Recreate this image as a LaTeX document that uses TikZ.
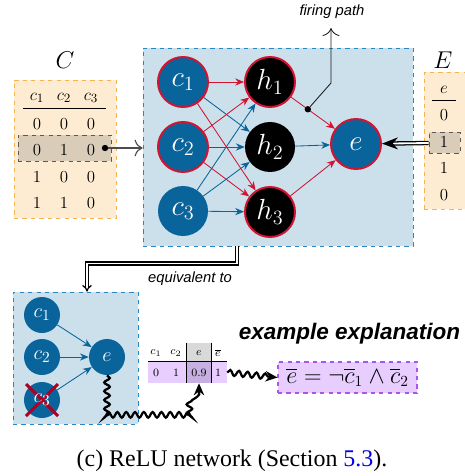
\documentclass[tikz,border=0pt]{standalone}
\usepackage{amsmath}
\usepackage{fontspec}
\setsansfont{Liberation Sans}
\newfontfamily\captionfont{Liberation Serif}
\usetikzlibrary{arrows.meta, calc, decorations.pathmorphing}

\definecolor{nodeblue}{RGB}{8,100,155}
\definecolor{firered}{RGB}{210,20,50}
\definecolor{netbg}{RGB}{204,224,236}
\definecolor{netborder}{RGB}{40,135,195}
\definecolor{tabbg}{RGB}{253,236,210}
\definecolor{tabborder}{RGB}{245,180,80}
\definecolor{rowpick}{RGB}{217,205,185}
\definecolor{explbg}{RGB}{232,206,255}
\definecolor{explborder}{RGB}{170,85,240}
\definecolor{cellpick}{RGB}{200,175,225}
\definecolor{crossred}{RGB}{175,0,35}
\definecolor{refblue}{RGB}{0,0,230}

\tikzset{
  neuron/.style={circle, fill=nodeblue, text=white, inner sep=0pt, minimum size=12.5mm, font=\fontsize{20}{20}\selectfont},
  hidden/.style={neuron, fill=black},
  fired/.style={draw=firered, line width=1.4pt},
  smallneuron/.style={circle, fill=nodeblue, text=white, inner sep=0pt, minimum size=9mm, font=\fontsize{15}{15}\selectfont},
  blueedge/.style={draw=nodeblue, line width=0.6pt, -{Stealth[length=2.2mm, width=1.8mm]}},
  rededge/.style={blueedge, draw=firered},
  cell/.style={inner sep=0pt, font=\fontsize{13}{13}\selectfont},
  smallcell/.style={inner sep=0pt, font=\fontsize{8}{8}\selectfont},
  panel/.style={draw=netborder, fill=netbg, dashed, line width=0.6pt},
  tablebox/.style={draw=tabborder, fill=tabbg, dashed, line width=0.6pt},
  pickbox/.style={draw=gray!70!black, fill=rowpick, dashed, line width=0.6pt, inner sep=0pt},
  dot/.style={circle, fill=black, inner sep=0pt, minimum size=1.6mm},
  doubleline/.style={double, double distance=1.3pt, line width=0.9pt},
  squiggle/.style={decorate, decoration={snake, amplitude=0.7mm, segment length=2.2mm, post length=2mm}, line width=1.6pt, -{Stealth[length=3mm, width=2.6mm]}},
  sans/.style={font=\sffamily\itshape\fontsize{10.5}{11}\selectfont}
}

\begin{document}
\begin{tikzpicture}
  \useasboundingbox (0,0) rectangle (11.6,-11.9);

  \node[panel, minimum width=6.75cm, minimum height=4.95cm] (net) at (6.95,-3.675) {};
  \node[panel, minimum width=3.125cm, minimum height=3.3cm] (small) at (1.8875,-8.95) {};

  \node[tablebox, minimum width=2.55cm, minimum height=3.45cm] (ctab) at (1.625,-3.725) {};
  \node[font=\fontsize{19}{19}\selectfont] (clabel) at (1.625,-1.5) {$C$};
  \node[pickbox, minimum width=2.325cm, minimum height=0.65cm] (cpick) at (1.6125,-3.7) {};
  \foreach \i in {1,2,3}
    \node[cell] (ch\i) at ({0.925+0.675*(\i-1)},-2.45) {$c_\i$};
  \draw[line width=0.5pt] (0.575,-2.7) -- (2.65,-2.7);
  \foreach \row [count=\r] in {{0,0,0},{0,1,0},{1,0,0},{1,1,0}}
    \foreach \v [count=\i] in \row
      \node[cell] (c-\r-\i) at ({0.925+0.675*(\i-1)},{-3.1-0.66*(\r-1)}) {$\v$};
  \node[dot] (cdot) at (2.625,-3.7) {};
  \draw[gray!60!black, line width=0.8pt, -{To[length=2mm]}] (cdot) -- (cdot -| net.west);

  \node[tablebox, minimum width=1.05cm, minimum height=3.425cm] (etab) at (11.125,-3.5125) {};
  \node[font=\fontsize{19}{19}\selectfont] (elabel) at (11.075,-1.5) {$E$};
  \node[pickbox, minimum width=0.775cm, minimum height=0.525cm] (epick) at (11.1125,-3.575) {};
  \node[cell] (eh) at (11.1,-2.25) {$e$};
  \draw[line width=0.5pt] (10.8,-2.5) -- (11.4,-2.5);
  \foreach \v [count=\r] in {0,1,1,0}
    \node[cell] (e-\r) at (11.1,{-2.875-0.665*(\r-1)}) {$\v$};

  \node[neuron, fired] (c1) at (4.575,-2.05) {$c_1$};
  \node[neuron, fired] (c2) at (4.575,-3.675) {$c_2$};
  \node[neuron] (c3) at (4.575,-5.275) {$c_3$};
  \node[hidden, fired] (h1) at (6.75,-2.05) {$h_1$};
  \node[hidden] (h2) at (6.75,-3.675) {$h_2$};
  \node[hidden, fired] (h3) at (6.75,-5.3) {$h_3$};
  \node[neuron, fired] (e) at (8.9,-3.6) {$e$};

  \foreach \s/\t/\sty in {c1/h2/blueedge, c2/h2/blueedge, c3/h1/blueedge, c3/h2/blueedge, c3/h3/blueedge,
    c1/h1/rededge, c1/h3/rededge, c2/h1/rededge, c2/h3/rededge, h2/e/blueedge, h1/e/rededge, h3/e/rededge}
    \draw[\sty] (\s) -- (\t);

  \node[dot] (firedot) at ($(h1)!0.44!(e)$) {};
  \coordinate (bend) at (8.275,-2.075);
  \coordinate (firetip) at (8.275,-0.7);
  \node[sans] (firelabel) at (8.3,-0.28) {firing path};
  \draw[gray!20!black, line width=0.6pt, -{To[length=2mm]}] (firedot) -- (bend) -- (firetip);

  \draw[doubleline, -{Stealth[length=4mm, width=3mm]}] (epick.west) -- (e);

  \draw[doubleline, -{Implies}] ([xshift=-1.025cm]net.south) -- ++(0,-0.425) -| ([xshift=0.2875cm]small.north);
  \node[sans] (eqlabel) at (4.75,-6.975) {equivalent to};

  \node[smallneuron] (sc1) at (1.05,-7.875) {$c_1$};
  \node[smallneuron] (sc2) at (1.05,-8.925) {$c_2$};
  \node[smallneuron] (sc3) at (1.05,-10.0) {};
  \node[smallneuron] (se) at (2.675,-8.925) {$e$};
  \foreach \s in {sc1,sc2,sc3}
    \draw[blueedge] (\s) -- (se);
  \draw[crossred, line width=2.2pt] ($(sc3)+(-0.4,0.4)$) -- ($(sc3)+(0.4,-0.4)$);
  \draw[crossred, line width=2.2pt] ($(sc3)+(-0.4,-0.4)$) -- ($(sc3)+(0.4,0.4)$);
  \node[text=white, font=\fontsize{15}{15}\selectfont, inner sep=0pt] (sc3text) at (sc3) {$c_3$};

  \node[fill=explbg, minimum width=1.975cm, minimum height=0.525cm, inner sep=0pt] (xrow) at (4.6875,-9.3125) {};
  \node[fill=gray!30, minimum width=0.6cm, minimum height=0.475cm, inner sep=0pt] (ehead) at (4.975,-8.8125) {};
  \node[fill=cellpick, minimum width=0.6cm, minimum height=0.525cm, inner sep=0pt] (ecell) at (4.975,-9.3125) {};
  \foreach \t/\x [count=\i] in {c_1/3.9, c_2/4.4, e/4.975, \overline{e}/5.45}
    \node[smallcell] (xh\i) at (\x,-8.825) {$\t$};
  \foreach \t/\x [count=\i] in {0/3.9, 1/4.4, 0.9/4.975, 1/5.45}
    \node[smallcell] (xv\i) at (\x,-9.325) {$\t$};
  \draw[line width=0.5pt] (xrow.north west) -- (xrow.north east);
  \draw[line width=0.5pt] (ehead.north west) -- (ecell.south west);
  \draw[line width=0.5pt] (ehead.north east) -- (ecell.south east);

  \node[draw=explborder, fill=explbg, dashed, line width=0.8pt, minimum width=3.475cm, minimum height=0.775cm, font=\fontsize{16}{16}\selectfont] (expl) at (8.6875,-9.4375) {$\overline{e} = \neg\overline{c}_1 \wedge \overline{c}_2$};
  \node[anchor=west, font=\sffamily\bfseries\itshape\fontsize{16}{17}\selectfont] (expltitle) at (5.85,-8.33) {example explanation};

  \draw[squiggle] (se.south) -- ++(0,-0.95) -| (ecell.south);
  \draw[squiggle] (xrow.east) -- (expl.west);

  \node[font=\captionfont\fontsize{17}{17}\selectfont] (caption) at (5.8,-11.525) {(c) ReLU network (Section \textcolor{refblue}{5.3}).};
\end{tikzpicture}
\end{document}
